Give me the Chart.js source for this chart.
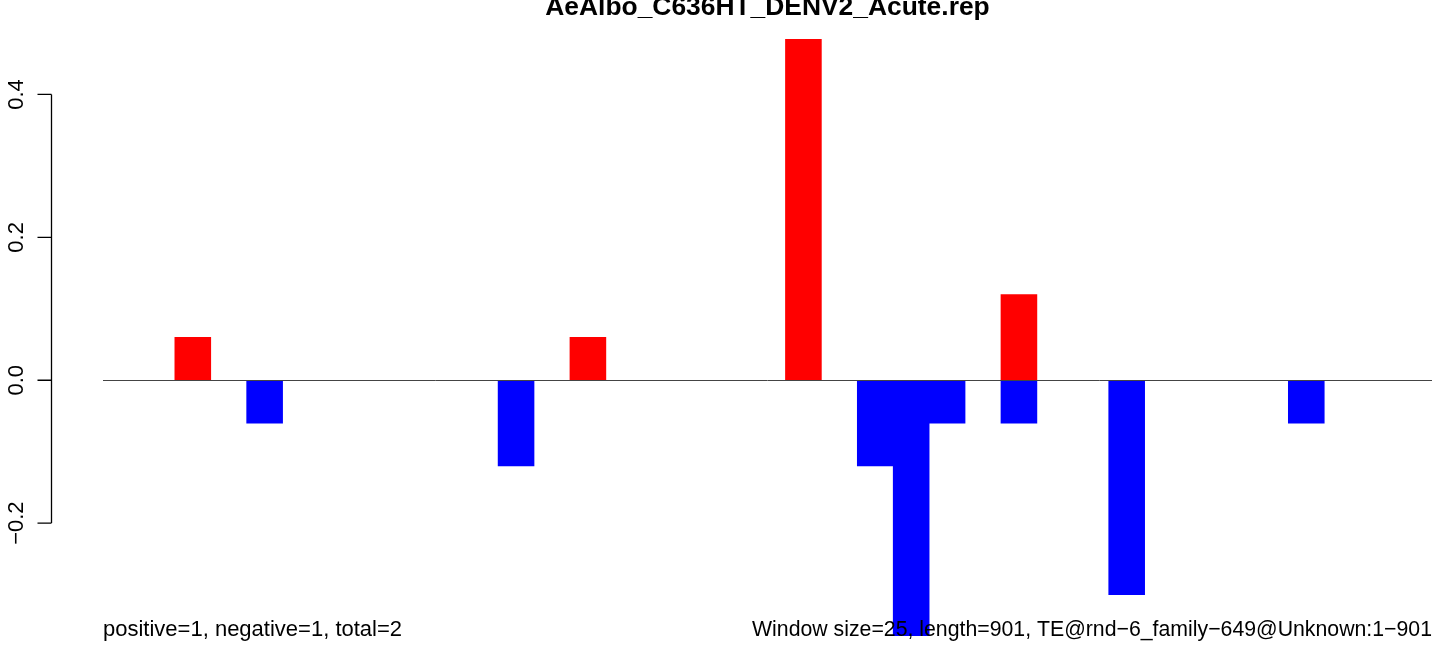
<!DOCTYPE html>
<html>
<head>
<meta charset="utf-8">
<script src="https://cdn.jsdelivr.net/npm/chart.js@4"></script>
<style>
  html, body { margin: 0; padding: 0; background: #fff; }
  #wrap { width: 1444px; height: 648px; }
</style>
</head>
<body>
<div id="wrap"><canvas id="repChart"></canvas></div>
<script>
/* ================= DATA ================= */
const chartTitle = "AeAlbo_C636HT_DENV2_Acute.rep";
const leftNote = "positive=1, negative=1, total=2";
const rightNote = "Window size=25, length=901, TE@rnd\u22126_family\u2212649@Unknown:1\u2212901";

// one category per window
const windows = [1, 2, 3, 4, 5, 6, 7, 8, 9, 10, 11, 12, 13, 14, 15, 16, 17, 18, 19,
  20, 21, 22, 23, 24, 25, 26, 27, 28, 29, 30, 31, 32, 33, 34, 35, 36, 37];

const positive = [null, null, 0.06, null, null, null, null, null, null, null,
  null, null, null, 0.06, null, null, null, null, null, 0.477,
  null, null, null, null, null, 0.12, null, null, null, null,
  null, null, null, null, null, null, null];

const negative = [null, null, null, null, -0.06, null, null, null, null, null,
  null, -0.12, null, null, null, null, null, null, null, null,
  null, -0.12, -0.36, -0.06, null, -0.06, null, null, -0.30, null,
  null, null, null, -0.06, null, null, null];

const yTicks = [-0.2, 0.0, 0.2, 0.4];
const yTickLabels = ["\u22120.2", "0.0", "0.2", "0.4"];

/* ================= R-STYLE DECORATIONS ================= */
const rStylePlugin = {
  id: "rStyle",
  afterDraw(chart) {
    const ctx = chart.ctx;
    const area = chart.chartArea;
    const y = chart.scales.y;
    const font = "22px 'Liberation Sans', Arial, sans-serif";

    ctx.save();

    // zero line (abline h=0)
    ctx.strokeStyle = "#444";
    ctx.lineWidth = 1;
    const y0 = Math.round(y.getPixelForValue(0)) + 0.5;
    ctx.beginPath();
    ctx.moveTo(area.left, y0);
    ctx.lineTo(area.right, y0);
    ctx.stroke();

    // y axis, only from first to last tick
    const axisX = 51.5;
    const top = y.getPixelForValue(yTicks[yTicks.length - 1]);
    const bottom = y.getPixelForValue(yTicks[0]);
    ctx.strokeStyle = "#000";
    ctx.lineWidth = 1.3;
    ctx.beginPath();
    ctx.moveTo(axisX, top);
    ctx.lineTo(axisX, bottom);
    yTicks.forEach(v => {
      const ty = y.getPixelForValue(v);
      ctx.moveTo(axisX, ty);
      ctx.lineTo(37.5, ty);
    });
    ctx.stroke();

    ctx.fillStyle = "#000";
    ctx.font = font;
    ctx.textAlign = "center";
    ctx.textBaseline = "alphabetic";
    yTicks.forEach((v, i) => {
      ctx.save();
      ctx.translate(23, y.getPixelForValue(v));
      ctx.rotate(-Math.PI / 2);
      ctx.fillText(yTickLabels[i], 0, 0);
      ctx.restore();
    });

    // title (partly cut off at the top)
    ctx.font = "bold 26.4px 'Liberation Sans', Arial, sans-serif";
    ctx.textAlign = "center";
    ctx.fillText(chartTitle, (area.left + area.right) / 2, 15);

    // notes under the plot
    ctx.font = font;
    ctx.textAlign = "left";
    ctx.fillText(leftNote, area.left, 636);
    ctx.textAlign = "right";
    ctx.fillText(rightNote, area.right, 636, 680);

    ctx.restore();
  }
};

/* ================= CHART ================= */
function drawChart() {
  const ctx = document.getElementById("repChart").getContext("2d");

  new Chart(ctx, {
    type: "bar",
    data: {
      labels: windows,
      datasets: [
        {
          label: "positive",
          data: positive,
          backgroundColor: "#ff0000",
          borderWidth: 0,
          barPercentage: 1,
          categoryPercentage: 1
        },
        {
          label: "negative",
          data: negative,
          backgroundColor: "#0000ff",
          borderWidth: 0,
          barPercentage: 1,
          categoryPercentage: 1
        }
      ]
    },
    options: {
      responsive: true,
      maintainAspectRatio: false,
      animation: false,
      layout: {
        padding: { left: 103, right: 12, top: 13, bottom: 12 }
      },
      scales: {
        x: {
          display: false,
          stacked: true
        },
        y: {
          display: false,
          stacked: true,
          min: -0.358,
          max: 0.514
        }
      },
      plugins: {
        legend: { display: false },
        tooltip: { enabled: false }
      }
    },
    plugins: [rStylePlugin]
  });
}

document.addEventListener("DOMContentLoaded", drawChart);
</script>
</body>
</html>
